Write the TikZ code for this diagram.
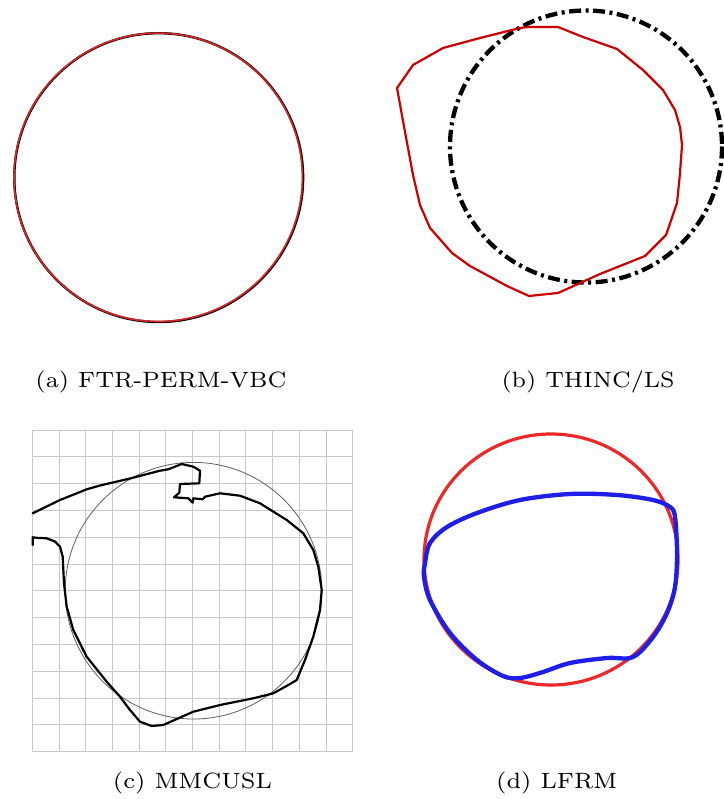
\documentclass[tikz,border=0pt]{standalone}
\usepackage{graphicx}
\usetikzlibrary{calc}
\definecolor{redA}{RGB}{214,38,38}
\definecolor{redB}{RGB}{204,0,0}
\definecolor{redD}{RGB}{238,40,40}
\definecolor{blueD}{RGB}{30,30,232}
\definecolor{gridC}{RGB}{200,200,200}
\definecolor{thinC}{RGB}{95,95,95}
\newcommand\captext[2]{\resizebox{#1}{16.6pt}{\fontsize{7}{8}\selectfont #2}}
\tikzset{
  caption/.style={anchor=base, inner sep=0pt},
  dashdotthick/.style={line width=4.3pt, dash pattern=on 12pt off 4.5pt on 3pt off 4.5pt},
  trajline/.style={line width=2.2pt, line join=round, line cap=round},
}
\begin{document}
\begin{tikzpicture}[x=1pt,y=-1pt]
\useasboundingbox (0,0) rectangle (723,799);
\fill[white] (0,0) rectangle (723,799);

% ---------- (a) ----------
\draw[black, line width=2.4pt] (158.7,177.6) circle (144.4);
\draw[redA, line width=1.6pt] (158.2,177.3) circle (144.2);
\node[caption] (capa) at (161,387.7) {\captext{251pt}{(a) FTR-PERM-VBC}};

% ---------- (b) ----------
\draw[dashdotthick] (586,146.5) circle (136);
\draw[redB, line width=2.2pt, line join=round]
  (528,27) -- (558,27) -- (583,37) -- (617,49) -- (643,70) -- (663,90) -- (675,110)
  -- (680,127) -- (682,145) -- (680,173) -- (677,203) -- (666,235) -- (645,256)
  -- (600,274) -- (558,293) -- (529,296) -- (507,286) -- (470,266) -- (452,253)
  -- (430,228) -- (420,205) -- (413,175) -- (405,132) -- (397,88) -- (413,65)
  -- (443,48) -- (480,38) -- (520,28) -- cycle;
\node[caption] (capb) at (588,387.7) {\captext{173pt}{(b) THINC/LS}};

% ---------- (c) ----------
\foreach \i in {0,...,12}{
  \draw[gridC, line width=1pt] ({32.3+\i*26.7},430) -- ({32.3+\i*26.7},751.7);
  \draw[gridC, line width=1pt] (32.3,{430+\i*26.81}) -- (352.7,{430+\i*26.81});
}
\draw[thinC, line width=0.8pt] (193.5,590.7) circle (128.3);
\draw[trajline]
  (32.7,513.3) -- (60,500) -- (86.7,489.3) -- (100,485.5) -- (130,478.5) -- (160,470.7)
  -- (168.3,469.3) -- (181.7,464) -- (193.3,466.7) -- (200,470.7) -- (199.3,483.3)
  -- (180,484) -- (179.3,492.7) -- (174,497.3) -- (188.3,498.3) -- (192.7,502.7)
  -- (193.3,498.3) -- (202.7,499.3) -- (205,496.7) -- (220,493.3) -- (240,495.7)
  -- (260,503.3) -- (286.7,520) -- (303.3,533.3) -- (313.3,550) -- (318.3,566.7)
  -- (321.7,590) -- (320,610) -- (313.3,636.7) -- (305,660) -- (296.7,680)
  -- (288.3,685) -- (273.3,693.3) -- (253.3,698.3) -- (220,705) -- (193.3,711.7)
  -- (178.3,718.3) -- (163.3,725) -- (151.7,726) -- (140,721.7) -- (130,710)
  -- (120,696.7) -- (106.7,681.7) -- (86.7,656.7) -- (73.3,630) -- (66.7,606.7)
  -- (64,583.3) -- (62.7,556.7) -- (60,546.7) -- (55,541.5) -- (46.7,538.3)
  -- (36.7,537.8) -- (32.7,537.3) -- (32.7,545);
\node[caption] (capc) at (192.5,788.3) {\captext{159pt}{(c) MMCUSL}};

% ---------- (d) ----------
\draw[redD, line width=3.2pt] (551,559.5) ellipse (127 and 125.5);
\draw[blueD, line width=4.3pt, line join=round]
  plot[smooth cycle, tension=0.55] coordinates {
  (425,563) (430,543) (447,527) (477,513) (520,500) (570,494) (617,495) (653,500)
  (670,507) (675,517) (677,553) (675,587) (667,613) (653,637) (633,657) (607,658)
  (570,663) (543,672) (520,678) (503,676) (477,660) (450,633) (430,600) (424,577)};
\node[caption] (capd) at (556.7,788.3) {\captext{121pt}{(d) LFRM}};
\end{tikzpicture}
\end{document}
